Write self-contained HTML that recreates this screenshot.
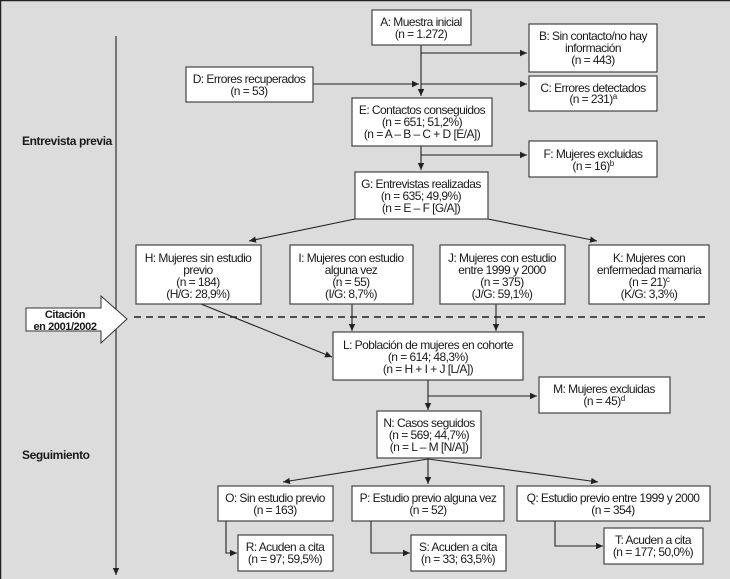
<!DOCTYPE html>
<html><head><meta charset="utf-8"><style>
html,body{margin:0;padding:0;}
body{width:730px;height:579px;overflow:hidden;background:#dcdcdc;}
svg{display:block;}
text{font-family:"Liberation Sans Narrow","Liberation Sans",sans-serif;font-size:12px;letter-spacing:-0.55px;fill:#1a1a1a;text-anchor:middle;}
.b{font-weight:bold;text-anchor:start;letter-spacing:-0.4px;}
rect.n{fill:#fff;stroke:#444;stroke-width:1.2;}
line,polyline{stroke:#222;stroke-width:1.1;fill:none;}
</style></head><body>
<svg width="730" height="579" viewBox="0 0 730 579" xmlns="http://www.w3.org/2000/svg">
<defs><marker id="a" markerWidth="8" markerHeight="8" refX="7" refY="4" orient="auto" markerUnits="userSpaceOnUse"><path d="M0,0.8 L7,4 L0,7.2 Z" fill="#222"/></marker></defs>
<rect x="0" y="0" width="730" height="579" fill="#dcdcdc"/>
<line x1="0.5" y1="0" x2="0.5" y2="579" style="stroke:#222;stroke-width:1.5"/>
<line x1="0" y1="0.5" x2="730" y2="0.5" style="stroke:#222;stroke-width:1.5"/>
<line x1="116" y1="36" x2="116" y2="575" marker-end="url(#a)"/>
<text class="b" x="22" y="145">Entrevista previa</text>
<text class="b" x="22" y="459">Seguimiento</text>
<polygon points="26,308 101,308 101,296 127,319 101,343 101,331 26,331" fill="#fff" stroke="#333" stroke-width="1"/>
<text x="65" y="318" style="font-weight:bold;font-size:11px;letter-spacing:-0.4px">Citación</text>
<text x="65" y="330" style="font-weight:bold;font-size:11px;letter-spacing:-0.4px">en 2001/2002</text>
<line x1="134" y1="317" x2="707" y2="317" style="stroke-dasharray:7,5;stroke-width:1.6"/>
<line x1="421" y1="45" x2="421" y2="96" marker-end="url(#a)"/>
<line x1="421" y1="53" x2="527" y2="53" marker-end="url(#a)"/>
<line x1="313" y1="84" x2="419" y2="84" marker-end="url(#a)"/>
<line x1="421" y1="84" x2="527" y2="84" marker-end="url(#a)"/>
<line x1="421" y1="146" x2="421" y2="170" marker-end="url(#a)"/>
<line x1="421" y1="155" x2="527" y2="155" marker-end="url(#a)"/>
<line x1="355" y1="219" x2="249" y2="241" marker-end="url(#a)"/>
<line x1="488" y1="219" x2="597" y2="241" marker-end="url(#a)"/>
<line x1="201" y1="304" x2="332" y2="357" marker-end="url(#a)"/>
<line x1="352" y1="304" x2="352" y2="331" marker-end="url(#a)"/>
<line x1="496" y1="304" x2="496" y2="331" marker-end="url(#a)"/>
<line x1="428" y1="380" x2="428" y2="410" marker-end="url(#a)"/>
<line x1="428" y1="396" x2="537" y2="396" marker-end="url(#a)"/>
<line x1="428" y1="459" x2="283" y2="482" marker-end="url(#a)"/>
<line x1="428" y1="459" x2="428" y2="484" marker-end="url(#a)"/>
<line x1="428" y1="459" x2="598" y2="482" marker-end="url(#a)"/>
<polyline points="226,521 226,553 237,553" marker-end="url(#a)"/>
<polyline points="371,521 371,553 410,553" marker-end="url(#a)"/>
<polyline points="555,521 555,546 603,546" marker-end="url(#a)"/>
<rect class="n" x="372" y="10" width="99" height="35"/>
<text x="421" y="26">A: Muestra inicial</text><text x="421" y="38">(n  = 1.272)</text>
<rect class="n" x="529" y="24" width="128" height="48"/>
<text x="593" y="40">B: Sin contacto/no hay</text><text x="593" y="52">información</text><text x="593" y="64">(n = 443)</text>
<rect class="n" x="529" y="76" width="128" height="35"/>
<text x="593" y="92">C: Errores detectados</text><text x="593" y="103">(n  = 231)<tspan dy="-4" style="font-size:8px">a</tspan></text>
<rect class="n" x="186" y="67" width="127" height="35"/>
<text x="249" y="83">D: Errores recuperados</text><text x="249" y="95">(n = 53)</text>
<rect class="n" x="352" y="98" width="140" height="48"/>
<text x="422" y="114">E: Contactos conseguidos</text><text x="422" y="126">(n = 651; 51,2%)</text><text x="422" y="138">(n = A – B – C + D [E/A])</text>
<rect class="n" x="529" y="141" width="128" height="36"/>
<text x="593" y="158">F: Mujeres excluidas</text><text x="593" y="170">(n = 16)<tspan dy="-4" style="font-size:8px">b</tspan></text>
<rect class="n" x="355" y="172" width="133" height="47"/>
<text x="421" y="188">G: Entrevistas realizadas</text><text x="421" y="200">(n = 635; 49,9%)</text><text x="421" y="212">(n = E – F [G/A])</text>
<rect class="n" x="136" y="245" width="125" height="59"/>
<text x="198" y="262">H: Mujeres sin estudio</text><text x="198" y="274">previo</text><text x="198" y="286">(n = 184)</text><text x="198" y="298">(H/G: 28,9%)</text>
<rect class="n" x="290" y="245" width="123" height="59"/>
<text x="351" y="262">I: Mujeres con estudio</text><text x="351" y="274">alguna vez</text><text x="351" y="286">(n = 55)</text><text x="351" y="298">(I/G: 8,7%)</text>
<rect class="n" x="440" y="245" width="125" height="59"/>
<text x="502" y="262">J: Mujeres con estudio</text><text x="502" y="274">entre 1999 y 2000</text><text x="502" y="286">(n = 375)</text><text x="502" y="298">(J/G: 59,1%)</text>
<rect class="n" x="589" y="245" width="120" height="59"/>
<text x="649" y="262">K: Mujeres con</text><text x="649" y="274">enfermedad mamaria</text><text x="649" y="286">(n = 21)<tspan dy="-4" style="font-size:8px">c</tspan></text><text x="649" y="298">(K/G: 3,3%)</text>
<rect class="n" x="333" y="332" width="190" height="48"/>
<text x="428" y="349">L: Población de mujeres en cohorte</text><text x="428" y="361">(n = 614; 48,3%)</text><text x="428" y="373">(n = H + I + J [L/A])</text>
<rect class="n" x="539" y="377" width="131" height="36"/>
<text x="604" y="393">M: Mujeres excluidas</text><text x="604" y="405">(n = 45)<tspan dy="-4" style="font-size:8px">d</tspan></text>
<rect class="n" x="377" y="411" width="104" height="47"/>
<text x="429" y="427">N: Casos seguidos</text><text x="429" y="439">(n = 569; 44,7%)</text><text x="429" y="451">(n = L – M [N/A])</text>
<rect class="n" x="218" y="486" width="115" height="35"/>
<text x="275" y="502">O: Sin estudio previo</text><text x="275" y="514">(n = 163)</text>
<rect class="n" x="352" y="486" width="152" height="35"/>
<text x="428" y="502">P: Estudio previo alguna vez</text><text x="428" y="514">(n = 52)</text>
<rect class="n" x="517" y="486" width="193" height="35"/>
<text x="613" y="502">Q: Estudio previo entre 1999 y 2000</text><text x="613" y="514">(n = 354)</text>
<rect class="n" x="238" y="535" width="95" height="36"/>
<text x="285" y="551">R: Acuden a cita</text><text x="285" y="563">(n = 97; 59,5%)</text>
<rect class="n" x="411" y="535" width="95" height="36"/>
<text x="458" y="551">S: Acuden a cita</text><text x="458" y="563">(n = 33; 63,5%)</text>
<rect class="n" x="604" y="528" width="99" height="36"/>
<text x="653" y="544">T: Acuden a cita</text><text x="653" y="556">(n = 177; 50,0%)</text>
</svg>
</body></html>
